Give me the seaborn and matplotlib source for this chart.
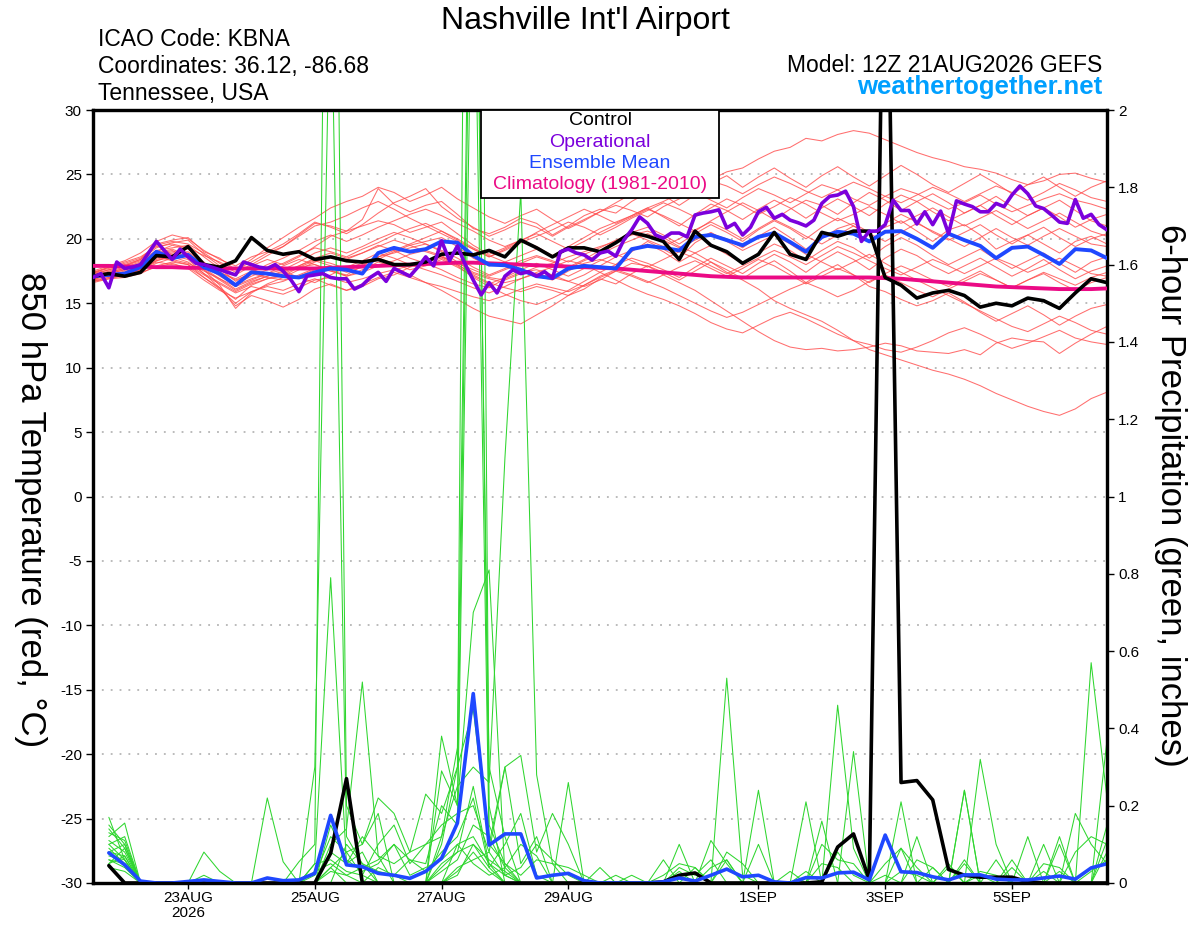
import numpy as np
import pandas as pd
import matplotlib
matplotlib.use("Agg")
import matplotlib.pyplot as plt
import matplotlib.ticker as ticker
from matplotlib.patches import Rectangle
import seaborn as sns

# forecast hours since 12Z 21AUG
temp_hours = np.arange(0, 385, 6)
oper_hours = np.arange(0, 385, 3)
precip_hours = np.arange(6, 385, 6)

date_ticks = [36, 84, 132, 180, 252, 300, 348]
date_labels = ["23AUG\n2026", "25AUG", "27AUG", "29AUG", "1SEP", "3SEP", "5SEP"]

# 850 hPa temperature (C)
control_temp = [17.1, 17.3, 17.1, 17.4, 18.7, 18.6, 19.4, 18.0, 17.8, 18.3,
                20.1, 19.1, 18.8, 19.0, 18.4, 18.6, 18.3, 18.2, 18.4, 18.0,
                18.0, 18.2, 18.8, 18.9, 18.75, 19.1, 18.6, 19.9, 19.3, 18.6,
                19.3, 19.3, 19.0, 19.7, 20.5, 20.2, 19.8, 18.4, 20.6, 19.5,
                19.0, 18.1, 18.8, 20.5, 18.8, 18.4, 20.5, 20.2, 20.6, 20.6,
                17.0, 16.4, 15.4, 15.8, 16.0, 15.6, 14.7, 15.0, 14.8, 15.4,
                15.2, 14.6, 15.8, 16.9, 16.6]

oper_temp = [17.0, 17.3, 16.2, 18.2, 17.7, 17.8, 18.0, 18.9, 19.8, 19.1,
             18.4, 19.2, 18.6, 18.1, 18.0, 17.8, 17.6, 17.4, 17.2, 18.2,
             18.0, 17.8, 17.7, 18.0, 17.5, 16.8, 15.9, 17.1, 17.2, 17.3,
             17.0, 16.9, 16.9, 16.1, 16.4, 17.0, 17.4, 16.7, 17.7, 17.4,
             17.1, 17.8, 18.6, 17.9, 19.85, 18.3, 19.45, 18.0, 16.8, 15.65,
             16.6, 15.8, 17.1, 17.6, 17.3, 17.45, 17.1, 17.45, 16.95, 19.0,
             19.2, 18.9, 18.75, 18.35, 18.9, 19.05, 18.65, 19.9, 20.7, 21.7,
             21.2, 20.3, 20.05, 20.45, 20.45, 20.15, 21.85, 22.0, 22.1, 22.25,
             20.85, 21.2, 20.3, 20.9, 22.1, 22.45, 21.6, 21.9, 21.45, 21.25,
             21.0, 21.45, 22.75, 23.3, 23.4, 23.7, 22.5, 19.8, 20.6, 20.6,
             21.1, 23.0, 22.2, 22.2, 21.15, 22.1, 21.1, 22.15, 20.4, 22.95,
             22.7, 22.5, 22.1, 22.1, 22.75, 22.5, 23.4, 24.1, 23.5, 22.55,
             22.35, 21.85, 21.3, 21.2, 23.05, 21.6, 21.9, 21.1, 20.7]

mean_temp = [17.1, 17.2, 17.3, 17.8, 19.0, 18.5, 18.75, 17.8, 17.3, 16.4,
             17.4, 17.3, 17.1, 17.0, 17.4, 17.7, 17.6, 17.3, 18.9, 19.3,
             19.0, 19.2, 19.8, 19.7, 18.7, 18.0, 17.95, 17.6, 17.1, 16.95,
             17.7, 17.9, 17.8, 17.7, 19.2, 19.45, 19.3, 19.1, 20.15, 20.3,
             19.9, 19.5, 20.15, 20.45, 19.75, 19.0, 20.15, 20.55, 20.4, 19.8,
             20.55, 20.6, 20.0, 19.3, 20.4, 19.9, 19.45, 18.5, 19.3, 19.4,
             18.75, 18.05, 19.2, 19.1, 18.5]

clim_temp = [17.9, 17.9, 17.85, 17.85, 17.8, 17.8, 17.75, 17.75, 17.7, 17.7,
             17.7, 17.7, 17.7, 17.7, 17.7, 17.75, 17.8, 17.85, 17.9, 17.95,
             18.0, 18.05, 18.1, 18.15, 18.15, 18.1, 18.05, 18.0, 17.95, 17.9,
             17.85, 17.8, 17.75, 17.7, 17.6, 17.5, 17.4, 17.3, 17.2, 17.1,
             17.05, 17.0, 17.0, 17.0, 17.0, 17.0, 17.0, 17.0, 17.0, 17.0,
             16.95, 16.9, 16.8, 16.7, 16.6, 16.5, 16.4, 16.3, 16.25, 16.2,
             16.15, 16.1, 16.1, 16.1, 16.15]

temp_members = [
    [17.2, 17.6, 17.9, 18.4, 19.6, 19.9, 20.1, 19.0, 18.5, 17.6, 18.2, 18.9, 19.4, 20.3, 21.2,
     21.0, 20.6, 21.5, 23.9, 22.7, 22.1, 22.6, 22.9, 21.9, 20.8, 20.4, 20.9, 21.6, 21.2, 20.3,
     21.0, 21.8, 22.3, 22.0, 22.9, 23.6, 24.1, 24.5, 25.0, 24.6, 25.2, 25.5, 26.2, 26.8, 27.1,
     27.8, 27.6, 28.1, 28.4, 28.2, 27.7, 27.2, 26.7, 26.3, 26.0, 25.6, 25.4, 25.1, 24.6, 24.2,
     24.5, 25.0, 25.1, 24.7, 24.4],
    [17.0, 17.1, 17.4, 17.9, 18.6, 18.3, 18.0, 17.0, 16.2, 15.3, 16.4, 16.9, 17.1, 17.8, 18.0,
     17.5, 17.2, 17.9, 18.6, 18.9, 19.3, 19.6, 19.0, 18.2, 17.4, 17.0, 16.8, 17.3, 17.8, 18.1,
     18.6, 19.0, 19.4, 19.8, 20.3, 20.6, 20.1, 19.4, 18.9, 18.2, 17.4, 16.8, 16.1, 15.2, 14.6,
     14.1, 13.6, 12.9, 12.1, 11.4, 11.0, 10.6, 10.2, 9.8, 9.5, 9.1, 8.6, 8.0, 7.5, 7.0,
     6.6, 6.3, 6.8, 7.6, 8.1],
    [16.8, 17.3, 17.6, 18.0, 18.9, 19.2, 18.7, 17.6, 16.4, 14.6, 15.8, 16.5, 17.0, 17.6, 18.2,
     18.6, 18.4, 18.9, 19.5, 19.1, 18.5, 18.1, 17.6, 17.0, 16.5, 16.2, 16.9, 17.4, 17.6, 17.2,
     16.7, 16.3, 16.8, 17.5, 18.1, 17.9, 17.2, 16.6, 16.0, 15.2, 14.4, 13.6, 12.8, 12.1, 11.6,
     11.4, 11.5, 11.3, 11.4, 11.6, 11.9, 11.7, 11.3, 11.2, 11.1, 11.4, 11.0, 11.9, 12.3, 12.1,
     12.0, 11.1, 11.9, 12.6, 13.2],
    [17.3, 17.8, 18.2, 18.6, 19.4, 19.6, 19.3, 18.7, 18.2, 17.6, 18.4, 19.3, 20.1, 20.9, 21.6,
     22.4, 22.9, 23.3, 24.0, 23.6, 22.9, 23.4, 24.0, 23.1, 22.4, 21.7, 21.2, 21.8, 22.3, 21.5,
     20.8, 21.4, 22.1, 22.6, 22.2, 21.7, 22.5, 23.1, 23.6, 23.0, 22.4, 23.2, 23.9, 23.4, 22.8,
     23.5, 24.2, 23.8, 23.1, 22.6, 23.3, 23.9, 23.5, 22.9, 22.3, 22.8, 23.4, 22.7, 22.1, 22.6,
     23.1, 23.5, 23.0, 22.7, 22.3],
    [17.0, 17.2, 17.5, 17.7, 18.5, 18.9, 19.0, 18.1, 17.4, 16.8, 17.3, 17.0, 16.8, 17.1, 17.6,
     17.9, 17.4, 17.8, 18.4, 19.0, 19.5, 19.8, 20.1, 19.4, 18.5, 17.9, 18.2, 17.6, 17.1, 16.8,
     17.5, 18.1, 18.4, 18.0, 19.0, 19.8, 19.2, 18.5, 19.7, 20.4, 20.0, 19.3, 20.2, 20.9, 20.1,
     19.2, 20.0, 20.8, 21.2, 20.5, 20.9, 21.4, 20.6, 19.8, 20.7, 21.1, 20.3, 19.2, 19.8, 20.3,
     19.6, 18.9, 19.8, 20.2, 19.6],
    [16.6, 16.9, 17.0, 17.3, 17.9, 18.2, 18.0, 17.2, 16.5, 15.8, 16.3, 16.0, 15.7, 16.2, 16.8,
     17.0, 16.6, 16.9, 17.3, 17.6, 17.9, 18.3, 18.6, 18.0, 17.2, 16.6, 16.2, 15.9, 16.3, 16.0,
     15.6, 16.1, 16.9, 16.5, 17.3, 17.9, 17.4, 16.8, 17.5, 18.2, 17.6, 16.9, 17.7, 18.3, 17.5,
     16.6, 17.4, 18.0, 17.2, 16.3, 15.9, 15.3, 14.8, 15.2, 15.8, 15.1, 14.3, 13.6, 14.2, 14.8,
     14.1, 13.3, 14.0, 14.6, 14.9],
    [17.4, 17.7, 18.0, 18.4, 19.3, 19.7, 19.9, 18.8, 17.9, 17.2, 17.9, 18.4, 18.0, 18.6, 19.4,
     20.2, 20.6, 21.0, 21.4, 21.1, 20.5, 20.9, 21.3, 20.4, 19.5, 18.8, 19.3, 19.9, 19.4, 18.7,
     19.4, 20.1, 20.8, 21.3, 21.8, 22.4, 21.7, 21.0, 21.9, 22.7, 22.2, 21.5, 22.3, 23.0, 22.4,
     21.6, 22.4, 23.1, 22.5, 21.8, 22.7, 23.4, 22.9, 22.1, 21.4, 22.0, 22.6, 21.8, 21.1, 21.8,
     22.4, 21.7, 20.9, 21.5, 21.9],
    [16.9, 17.1, 17.3, 17.6, 18.2, 18.0, 17.8, 17.0, 16.1, 15.0, 15.9, 16.4, 16.7, 17.2, 17.7,
     17.5, 17.1, 17.4, 17.9, 18.3, 18.8, 19.1, 18.7, 18.0, 17.3, 16.9, 16.6, 16.9, 17.3, 17.0,
     16.7, 17.2, 17.9, 18.6, 19.1, 19.6, 19.0, 18.2, 18.9, 19.5, 18.8, 18.1, 18.9, 19.6, 19.1,
     18.3, 19.1, 19.8, 19.3, 18.5, 19.4, 20.1, 19.5, 18.7, 18.0, 18.6, 19.2, 18.4, 17.7, 18.3,
     18.9, 18.1, 17.4, 18.2, 18.6],
    [17.1, 17.3, 17.2, 17.6, 18.3, 18.7, 18.4, 17.3, 16.2, 14.8, 15.6, 15.2, 14.7, 15.3, 16.1,
     16.5, 16.0, 16.3, 16.9, 17.2, 17.8, 18.2, 18.5, 17.9, 17.0, 16.3, 15.7, 15.2, 14.9, 15.4,
     16.0, 16.7, 17.4, 18.0, 18.5, 18.1, 17.6, 17.0, 17.8, 18.5, 17.9, 17.3, 18.1, 18.8, 18.2,
     17.4, 18.3, 19.0, 18.4, 17.6, 18.5, 19.2, 18.7, 17.9, 17.3, 17.9, 18.5, 17.8, 17.1, 17.7,
     18.4, 17.6, 16.9, 17.5, 17.9],
    [17.5, 17.9, 18.3, 18.9, 19.8, 20.3, 20.0, 19.1, 18.4, 17.9, 18.6, 19.0, 19.6, 20.4, 21.3,
     20.9, 20.4, 21.1, 22.0, 22.8, 23.3, 23.9, 22.5, 21.6, 20.9, 20.2, 20.7, 21.3, 20.9, 20.2,
     20.9, 21.5, 22.1, 22.8, 23.5, 24.2, 23.4, 22.6, 23.4, 24.3, 24.9, 24.0, 24.8, 25.5, 24.7,
     24.0, 24.9, 25.6, 24.8, 24.1, 24.9, 25.7, 25.0, 24.2, 23.6, 24.3, 25.0, 24.3, 23.5, 24.2,
     24.8, 24.0, 23.3, 24.0, 24.5],
    [16.7, 17.0, 17.2, 17.5, 18.1, 18.5, 18.8, 17.9, 17.1, 16.4, 16.9, 17.3, 17.6, 18.2, 18.9,
     19.3, 18.9, 19.4, 20.0, 20.5, 20.1, 19.6, 19.1, 18.5, 17.8, 17.2, 17.7, 18.3, 18.7, 18.3,
     17.8, 18.4, 19.1, 19.8, 20.5, 20.9, 20.3, 19.6, 20.4, 21.1, 20.5, 19.8, 20.7, 21.4, 20.8,
     20.0, 20.9, 21.6, 21.0, 20.3, 21.2, 21.9, 21.3, 20.5, 19.9, 20.5, 21.1, 20.3, 19.6, 20.3,
     20.9, 20.1, 19.4, 20.0, 20.4],
    [17.2, 17.4, 17.7, 18.1, 18.8, 19.1, 18.5, 17.6, 16.8, 16.0, 16.6, 17.1, 17.5, 17.0, 16.6,
     17.2, 17.8, 18.3, 18.9, 18.5, 18.0, 17.6, 17.2, 16.7, 16.2, 15.8, 16.3, 16.9, 17.4, 17.8,
     18.3, 18.0, 17.4, 16.8, 16.2, 15.7, 15.3, 14.8, 14.2, 13.5, 13.0, 12.7, 13.3, 13.9, 14.3,
     13.8, 13.2, 12.6, 12.1, 11.8, 11.4, 11.2, 11.6, 12.1, 12.7, 13.1, 12.6, 12.0, 11.5, 11.9,
     12.4, 12.9, 12.3, 12.0, 11.8],
    [17.0, 17.3, 17.6, 17.8, 18.6, 18.4, 18.1, 17.5, 16.9, 16.3, 16.8, 17.3, 17.9, 18.4, 18.0,
     17.6, 17.1, 17.6, 18.2, 17.8, 17.2, 16.6, 16.0, 15.3, 14.6, 14.0, 13.7, 13.4, 14.1, 14.8,
     15.6, 16.4, 17.1, 17.6, 17.2, 16.7, 16.2, 15.6, 15.0, 14.4, 13.9, 14.3, 14.9, 15.5, 16.1,
     16.6, 16.1, 15.5, 16.0, 16.7, 17.2, 16.6, 16.0, 15.5, 16.1, 16.7, 17.3, 16.8, 16.2, 16.8,
     17.4, 16.9, 16.4, 17.0, 17.4],
    [17.3, 17.6, 17.9, 18.3, 19.1, 19.3, 19.5, 18.6, 17.7, 16.7, 17.4, 18.0, 18.5, 19.1, 19.8,
     20.3, 19.8, 20.3, 20.9, 21.4, 21.9, 22.3, 21.8, 21.2, 20.6, 19.9, 19.4, 19.9, 20.4, 19.8,
     19.2, 19.8, 20.5, 21.1, 21.7, 22.3, 21.8, 21.2, 20.6, 21.4, 22.1, 22.8, 22.2, 21.5, 22.3,
     23.0, 22.6, 21.9, 22.8, 23.6, 23.0, 22.2, 22.9, 23.5, 22.8, 22.0, 22.6, 23.3, 22.5, 21.8,
     22.4, 23.0, 22.2, 21.4, 21.0],
    [16.8, 17.0, 17.1, 17.4, 17.8, 18.1, 17.7, 16.8, 16.0, 15.4, 15.9, 16.3, 16.0, 16.5, 16.9,
     16.4, 16.0, 16.5, 17.0, 17.4, 17.0, 16.6, 16.3, 15.9, 15.5, 15.2, 15.6, 16.1, 16.5, 16.2,
     15.9, 16.4, 17.0, 17.5, 17.1, 16.6, 17.2, 17.8, 18.3, 17.7, 17.1, 17.7, 18.4, 17.9, 17.2,
     16.5, 17.1, 17.7, 17.2, 16.6, 17.3, 17.9, 17.4, 16.8, 16.3, 16.9, 17.5, 16.8, 16.2, 16.8,
     17.3, 16.6, 16.0, 16.6, 17.0],
    [17.1, 17.5, 17.8, 18.2, 19.0, 19.5, 19.2, 18.2, 17.3, 16.5, 17.1, 17.6, 18.1, 18.7, 19.3,
     19.0, 18.6, 19.2, 19.7, 20.3, 20.8, 21.2, 20.6, 19.9, 19.2, 18.6, 19.1, 19.7, 20.2, 20.7,
     21.3, 20.9, 20.3, 20.9, 21.6, 22.2, 22.8, 22.3, 21.7, 22.4, 23.1, 22.6, 21.9, 22.5, 23.2,
     22.7, 22.0, 21.4, 21.9, 22.5, 21.9, 21.2, 21.8, 22.4, 21.7, 21.0, 21.6, 22.2, 21.5, 20.8,
     21.4, 22.0, 21.3, 20.6, 20.2],
    [16.9, 17.2, 17.4, 17.7, 18.4, 18.8, 18.6, 17.7, 16.9, 16.1, 16.7, 17.1, 17.4, 17.9, 18.5,
     18.9, 18.5, 18.9, 19.4, 19.9, 19.5, 19.0, 18.6, 18.1, 17.6, 17.1, 17.6, 18.1, 18.6, 18.2,
     17.7, 18.3, 18.8, 19.4, 19.9, 20.4, 19.9, 19.3, 19.9, 20.5, 19.8, 19.1, 19.7, 20.3, 19.6,
     18.8, 18.2, 17.6, 18.2, 18.8, 18.1, 17.4, 16.8, 16.2, 15.6, 15.0, 14.4, 13.8, 13.2, 12.8,
     13.4, 14.0, 13.5, 12.9, 12.6],
    [17.4, 17.8, 18.1, 18.5, 19.5, 19.8, 19.6, 18.9, 18.1, 17.4, 18.0, 18.7, 19.4, 20.2, 21.0,
     21.3, 21.8, 22.4, 22.9, 22.3, 21.6, 21.0, 20.4, 19.8, 19.2, 18.6, 19.2, 19.8, 20.5, 21.1,
     21.7, 22.3, 21.8, 21.2, 21.8, 22.4, 22.9, 23.5, 24.0, 24.5, 24.1, 23.5, 24.2, 24.8, 24.3,
     23.7, 23.2, 23.8, 24.4, 23.9, 23.3, 22.8, 23.4, 24.0, 23.5, 22.9, 23.5, 24.1, 23.6, 23.0,
     23.6, 24.3, 23.8, 23.2, 22.9],
    [17.0, 17.4, 17.7, 18.0, 18.7, 19.0, 18.9, 18.0, 17.4, 16.9, 17.5, 17.8, 17.5, 17.9, 18.4,
     18.1, 17.7, 18.1, 18.6, 19.1, 19.6, 20.1, 20.6, 20.0, 19.3, 18.7, 18.2, 18.7, 19.2, 18.7,
     18.2, 18.8, 19.3, 19.9, 20.4, 19.9, 19.4, 20.0, 20.7, 21.3, 20.7, 20.0, 20.8, 21.5, 20.9,
     20.2, 19.6, 20.3, 21.0, 20.4, 19.8, 20.5, 21.2, 20.6, 20.0, 19.4, 20.1, 20.8, 20.1, 19.5,
     20.2, 20.8, 20.2, 19.6, 19.4],
    [16.7, 16.9, 17.2, 17.6, 18.3, 18.6, 18.2, 17.3, 16.6, 15.9, 16.5, 16.9, 17.3, 17.8, 18.3,
     17.9, 17.5, 18.0, 18.5, 18.1, 17.6, 17.9, 18.4, 17.8, 17.1, 16.5, 17.0, 17.6, 18.1, 17.6,
     17.1, 17.7, 18.3, 18.8, 18.3, 17.8, 18.4, 19.0, 18.5, 17.9, 17.3, 17.9, 18.5, 19.1, 18.6,
     18.0, 18.7, 19.4, 18.9, 18.3, 17.7, 17.2, 17.8, 18.4, 17.9, 17.3, 17.9, 18.5, 18.0, 17.4,
     17.9, 18.5, 17.9, 17.3, 17.1],
]

# 6-hour precipitation (inches)
control_precip = [0.045, 0, 0, 0, 0, 0, 0, 0, 0, 0, 0, 0, 0, 0, 0.077, 0.27,
                  0, 0, 0, 0, 0, 0, 0, 0, 0, 0, 0, 0, 0, 0, 0, 0,
                  0, 0, 0, 0.003, 0.02, 0.026, 0, 0, 0, 0, 0, 0, 0, 0.003, 0.093, 0.127,
                  0.008, 2.8, 0.26, 0.265, 0.215, 0.035, 0.02, 0.015, 0.015, 0.015, 0.003, 0, 0, 0, 0, 0]

mean_precip = [0.078, 0.047, 0.005, 0, 0, 0.004, 0.008, 0.004,
               0, 0, 0.013, 0.006, 0.008, 0.025, 0.175, 0.047,
               0.042, 0.025, 0.02, 0.012, 0.03, 0.064, 0.155, 0.49,
               0.098, 0.127, 0.127, 0.013, 0.02, 0.025, 0.006, 0,
               0, 0, 0, 0.003, 0.013, 0.005, 0.02, 0.036,
               0.016, 0.02, 0.003, 0, 0.014, 0.013, 0.026, 0.028,
               0.008, 0.124, 0.029, 0.027, 0.016, 0.008, 0.021, 0.021,
               0.01, 0.008, 0.008, 0.013, 0.018, 0.01, 0.039, 0.05]

precip_members = [
    [.17, .06, 0, 0, 0, 0, 0, 0, 0, 0, 0, 0, 0, .30, 2.4, .12, .05, 0, 0, 0, 0, .12, .35, 3.2,
     .15, .05, 0, 0, 0, 0, 0, 0, 0, 0, 0, 0, 0, 0, .11, .05, 0, 0, 0, 0, 0, 0, .46, .09,
     0, 0, 0, 0, 0, .05, 0, 0, 0, 0, 0, 0, 0, 0, .57, .22],
    [.12, .155, 0, 0, 0, 0, .08, .03, 0, 0, 0, 0, 0, .05, .79, .05, .08, 0, 0, 0, 0, .38, .20, .70,
     .81, .02, 0, 0, 0, 0, 0, 0, 0, 0, 0, .06, 0, 0, 0, .53, .02, 0, 0, 0, 0, 0, 0, 0,
     0, 0, 0, 0, 0, 0, 0, .32, .10, 0, 0, 0, 0, 0, 0, .11],
    [.10, .12, 0, 0, 0, 0, 0, 0, 0, 0, .22, .055, 0, 0, .10, .14, .52, .07, 0, 0, 0, .10, .30, 5.5,
     .20, 0, 0, 0, 0, 0, 0, 0, 0, 0, 0, 0, .10, 0, 0, 0, 0, .24, 0, 0, 0, 0, 0, .34,
     0, 0, .21, 0, 0, 0, 0, 0, 0, 0, 0, 0, .12, 0, 0, .37],
    [.08, .10, 0, 0, 0, 0, .02, 0, 0, 0, 0, 0, .055, .10, 4.0, .20, .10, .18, 0, 0, 0, .29, .20, 3.0,
     .30, .12, 0, 0, 0, 0, 0, 0, 0, 0, 0, 0, 0, 0, 0, .08, .05, 0, 0, 0, .21, 0, 0, 0,
     0, 0, 0, 0, 0, 0, .24, 0, 0, 0, .12, 0, 0, 0, 0, 0],
    [.06, .04, 0, 0, 0, 0, 0, 0, 0, 0, 0, 0, 0, .02, .12, .08, .10, .22, .18, .08, .23, .18, .30, .45,
     .10, .30, .05, .12, 0, 0, 0, 0, 0, 0, 0, 0, 0, 0, 0, 0, 0, 0, 0, 0, 0, .16, 0, 0,
     0, 0, 0, .12, 0, 0, 0, 0, 0, .06, 0, .10, 0, 0, 0, 0],
    [.14, .09, 0, 0, 0, 0, 0, 0, 0, 0, 0, 0, 0, .05, .06, .03, .02, .10, .15, .05, .10, .12, .25, .30,
     .26, 1.1, 1.79, .28, .05, 0, 0, 0, 0, 0, 0, 0, 0, 0, 0, 0, 0, 0, 0, 0, 0, 0, 0, 0,
     0, 0, .09, 0, 0, 0, 0, 0, 0, 0, 0, 0, 0, .18, .10, .05],
    [.05, .07, 0, 0, 0, 0, 0, 0, 0, 0, 0, 0, 0, 0, .08, .05, .12, .07, .05, .08, .10, .15, .18, .20,
     .08, .30, .33, .08, .18, .10, 0, 0, .02, 0, 0, 0, 0, 0, 0, 0, 0, .10, 0, 0, 0, 0, 0, 0,
     0, 0, 0, 0, 0, 0, 0, 0, 0, 0, 0, 0, 0, 0, 0, 0],
    [.11, .08, 0, 0, 0, 0, 0, 0, 0, 0, 0, 0, 0, .03, .05, .02, .04, .06, .10, .06, .03, .08, .12, .22,
     .04, .10, .18, .02, 0, .26, 0, 0, 0, 0, 0, 0, 0, .04, 0, 0, 0, 0, 0, .03, 0, 0, 0, 0,
     0, 0, 0, 0, 0, 0, .06, 0, 0, 0, 0, 0, .10, 0, 0, 0],
    [.09, .05, 0, 0, 0, 0, 0, 0, 0, 0, 0, 0, 0, 0, 0, .10, .05, .03, .02, .06, .05, .20, .15, 2.6,
     .10, .05, .02, .06, .05, .04, .02, 0, 0, 0, 0, 0, 0, 0, 0, .06, 0, 0, 0, 0, 0, 0, 0, 0,
     0, 0, 0, 0, 0, 0, 0, 0, 0, 0, 0, 0, 0, 0, 0, .08],
    [.15, .10, 0, 0, 0, 0, 0, 0, 0, 0, 0, 0, 0, 0, .15, .06, .03, .05, .10, .02, .04, .06, .10, .12,
     .05, .02, .04, .10, .06, .02, 0, .04, 0, .02, 0, 0, 0, 0, 0, 0, 0, 0, 0, 0, 0, 0, 0, 0,
     0, 0, 0, 0, .04, 0, 0, 0, 0, 0, 0, 0, 0, 0, 0, 0],
    [.07, .06, 0, 0, 0, 0, 0, 0, 0, 0, 0, 0, 0, 0, .03, .02, 0, 0, 0, 0, 0, .03, .06, .15,
     .12, .04, 0, 0, 0, 0, 0, 0, 0, 0, 0, .02, .05, .04, 0, 0, 0, 0, 0, 0, 0, .10, .06, .05,
     0, .05, .09, .04, 0, 0, .05, 0, 0, 0, 0, .03, 0, .08, .12, .10],
    [.04, .03, 0, 0, 0, 0, 0, 0, 0, 0, 0, 0, 0, 0, 0, 0, 0, 0, 0, 0, 0, 0, .02, .10,
     .06, .03, 0, 0, 0, 0, 0, 0, 0, 0, 0, 0, .04, .02, .06, 0, 0, 0, 0, 0, .03, 0, .08, .02,
     0, 0, 0, .06, .04, 0, 0, .03, .02, 0, 0, .05, .04, 0, 0, .15],
    [0, 0, 0, 0, 0, 0, 0, 0, 0, 0, 0, 0, 0, 0, .04, 0, 0, 0, 0, 0, 0, .05, .08, .10,
     .04, 0, 0, 0, 0, 0, 0, 0, 0, 0, 0, 0, 0, 0, 0, 0, 0, 0, 0, 0, 0, 0, 0, 0,
     0, .02, 0, 0, 0, 0, .24, 0, .06, 0, 0, 0, 0, 0, 0, 0],
    [.10, .06, 0, 0, 0, 0, 0, 0, 0, 0, 0, 0, 0, 0, 0, 0, 0, .04, .02, 0, 0, 0, .03, .08,
     .03, 0, 0, 0, 0, 0, 0, 0, 0, 0, 0, 0, 0, 0, 0, 0, 0, 0, 0, 0, 0, 0, 0, 0,
     0, 0, 0, 0, 0, .04, 0, .02, 0, .04, 0, 0, .03, 0, 0, 0],
    [.13, .11, 0, 0, 0, 0, 0, 0, 0, 0, 0, 0, 0, 0, 0, 0, 0, 0, 0, 0, 0, 0, .10, .05,
     .02, .04, .10, .07, 0, 0, 0, 0, 0, 0, 0, 0, 0, 0, 0, 0, 0, 0, 0, 0, 0, 0, 0, 0,
     0, 0, 0, 0, 0, 0, 0, 0, 0, 0, 0, 0, 0, 0, 0, 0],
    [.06, .05, 0, 0, 0, 0, 0, 0, 0, 0, 0, 0, 0, 0, .04, .08, .02, 0, 0, 0, 0, 0, .04, .06,
     .08, .02, 0, 0, 0, 0, 0, 0, 0, 0, 0, 0, .03, 0, 0, 0, 0, 0, 0, 0, 0, .05, .04, 0,
     0, 0, .03, .02, 0, 0, 0, 0, 0, 0, 0, 0, 0, 0, .03, .06],
    [.08, .07, 0, 0, 0, 0, 0, 0, 0, 0, 0, 0, 0, 0, 0, 0, 0, 0, 0, 0, 0, 0, 0, 0,
     0, 0, 0, 0, 0, 0, 0, 0, 0, 0, 0, 0, 0, 0, .04, .06, 0, 0, 0, 0, 0, 0, 0, 0,
     0, 0, 0, 0, 0, 0, 0, 0, 0, 0, 0, 0, 0, 0, 0, 0],
    [.05, .09, 0, 0, 0, 0, 0, 0, 0, 0, 0, 0, 0, 0, 0, 0, 0, 0, 0, 0, 0, .04, .08, .25,
     .05, 0, 0, 0, 0, 0, 0, 0, 0, 0, 0, 0, 0, 0, 0, 0, 0, 0, 0, 0, 0, 0, 0, 0,
     0, 0, 0, 0, 0, 0, 0, 0, 0, 0, 0, 0, 0, 0, 0, 0],
]

for i, m in enumerate(temp_members):
    assert len(m) == len(temp_hours), ("temp member", i, len(m))
for i, m in enumerate(precip_members):
    assert len(m) == len(precip_hours), ("precip member", i, len(m))

RED = "#ff4a4a"
GREEN = "#2fd62f"
PURPLE = "#7b00dc"
BLUE = "#1f48ff"
PINK = "#eb0a85"


def long_frame(members, hours, name):
    """stack ensemble members into long form for seaborn"""
    rows = []
    for m, vals in enumerate(members):
        for h, v in zip(hours, vals):
            rows.append((m, h, v))
    return pd.DataFrame(rows, columns=["member", "hour", name])


sns.set_theme(style="white")
plt.rcParams["font.family"] = ["Liberation Sans", "DejaVu Sans"]
plt.rcParams["axes.unicode_minus"] = False
plt.rcParams["text.color"] = "black"
plt.rcParams["xtick.color"] = "black"
plt.rcParams["ytick.color"] = "black"

fig = plt.figure(figsize=(12, 9.27), dpi=100)
ax = fig.add_axes([93 / 1200, 1 - 883 / 927, 1014 / 1200, 773 / 927])
ax2 = ax.twinx()
ax3 = ax.twinx()

# red ensemble temps
df_t = long_frame(temp_members, temp_hours, "temp")
sns.lineplot(data=df_t, x="hour", y="temp", units="member", estimator=None,
             color=RED, lw=0.75, alpha=0.8, legend=False, ax=ax)

# green ensemble precip + control / mean precip
df_p = long_frame(precip_members, precip_hours, "precip")
sns.lineplot(data=df_p, x="hour", y="precip", units="member", estimator=None,
             color=GREEN, lw=0.75, legend=False, ax=ax2)
sns.lineplot(x=precip_hours, y=control_precip, color="black", lw=2.6, ax=ax2)
sns.lineplot(x=precip_hours, y=mean_precip, color=BLUE, lw=2.6, ax=ax2)

# thick temperature lines on top
sns.lineplot(x=temp_hours, y=clim_temp, color=PINK, lw=2.8, ax=ax3)
sns.lineplot(x=temp_hours, y=mean_temp, color=BLUE, lw=2.8, ax=ax3)
sns.lineplot(x=temp_hours, y=control_temp, color="black", lw=2.6, ax=ax3)
sns.lineplot(x=oper_hours, y=oper_temp, color=PURPLE, lw=2.6, ax=ax3)

ax.set_xlim(0, 384)
ax.set_ylim(-30, 30)
ax2.set_ylim(0, 2)
ax3.set_ylim(-30, 30)
ax3.set_axis_off()

for a in (ax, ax2, ax3):
    a.set_xlabel("")
    a.set_ylabel("")

ax.set_yticks(np.arange(-30, 31, 5))
ax.yaxis.set_major_formatter(ticker.FormatStrFormatter("%d"))
ax.set_xticks(date_ticks)
ax.set_xticklabels(date_labels, linespacing=1.05)
ax.tick_params(axis="y", left=True, direction="out", length=5, width=1, labelsize=11, pad=3, colors="black")
ax.tick_params(axis="x", bottom=True, direction="out", length=4, width=1, labelsize=11, pad=2, colors="black")
ax2.set_yticks(np.arange(0, 2.01, 0.2))
ax2.yaxis.set_major_formatter(ticker.FuncFormatter(lambda v, p: "%g" % round(v, 1)))
ax2.tick_params(axis="y", right=True, direction="out", length=5, width=1, labelsize=11, pad=3, colors="black")

ax.yaxis.grid(True, color="#a8a8a8", linestyle=(0, (1.2, 4.6)), linewidth=1.1)
ax.xaxis.grid(False)
for a in (ax, ax2):
    for sp in a.spines.values():
        sp.set_color("black")
        sp.set_linewidth(2.3)

# legend box
ax3.add_patch(Rectangle((0.3826, 0.886), 0.2348, 0.114, transform=ax3.transAxes,
                        facecolor="white", edgecolor="black", lw=1.3, zorder=10, clip_on=False))
for txt, col, yy in [("Control", "black", 0.9858), ("Operational", PURPLE, 0.9586),
                     ("Ensemble Mean", BLUE, 0.9314), ("Climatology (1981-2010)", PINK, 0.9030)]:
    ax3.text(0.5, yy, txt, color=col, fontsize=14, ha="center", va="center",
             transform=ax3.transAxes, zorder=11)

# header text
fig.text(0.488, 1 - 29 / 927, "Nashville Int'l Airport", fontsize=23, ha="center", va="baseline")
fig.text(98 / 1200, 1 - 46 / 927, "ICAO Code: KBNA", fontsize=16.5, va="baseline")
fig.text(98 / 1200, 1 - 73 / 927, "Coordinates: 36.12, -86.68", fontsize=16.5, va="baseline")
fig.text(98 / 1200, 1 - 100 / 927, "Tennessee, USA", fontsize=16.5, va="baseline")
fig.text(1102 / 1200, 1 - 72 / 927, "Model: 12Z 21AUG2026 GEFS", fontsize=16.5, ha="right", va="baseline")
fig.text(1102 / 1200, 1 - 94 / 927, "weathertogether.net", fontsize=18.5, fontweight="bold",
         color="#00a0ff", ha="right", va="baseline")

fig.text(30 / 1200, 1 - 510 / 927, "850 hPa Temperature (red, \u00b0C)", fontsize=25,
         rotation=270, ha="center", va="center")
fig.text(1170 / 1200, 1 - 495 / 927, "6-hour Precipitation (green, inches)", fontsize=25,
         rotation=270, ha="center", va="center")

fig.savefig("out.png", dpi=100, facecolor="white")
